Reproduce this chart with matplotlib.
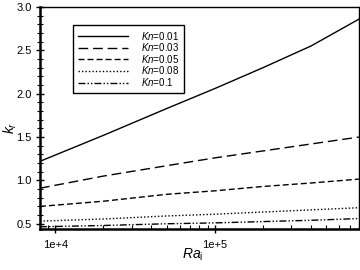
import math
import matplotlib
matplotlib.use("Agg")
import matplotlib.pyplot as plt
from matplotlib.ticker import FixedLocator, MultipleLocator, LogLocator, FuncFormatter, NullFormatter

plt.rcParams['font.family'] = ['Liberation Sans', 'DejaVu Sans']
plt.rcParams['mathtext.fontset'] = 'custom'
plt.rcParams['mathtext.rm'] = 'Liberation Sans'
plt.rcParams['mathtext.it'] = 'Liberation Sans:italic'

# Ra_i values and k_r curves for each Kn
ra = [8e3, 2e4, 5e4, 1e5, 2e5, 4e5, 8e5]
kn_labels = ['0.01', '0.03', '0.05', '0.08', '0.1']
kr_001 = [1.22, 1.52, 1.83, 2.06, 2.30, 2.55, 2.86]
kr_003 = [0.91, 1.05, 1.17, 1.26, 1.34, 1.42, 1.50]
kr_005 = [0.70, 0.76, 0.84, 0.88, 0.93, 0.97, 1.015]
kr_008 = [0.53, 0.555, 0.59, 0.61, 0.635, 0.66, 0.685]
kr_010 = [0.465, 0.48, 0.50, 0.51, 0.525, 0.54, 0.56]

fig = plt.figure(figsize=(3.6, 2.7), dpi=100)
ax = fig.add_axes([0.111, 0.152, 0.886, 0.822])

styles = [dict(linestyle='-'),
          dict(dashes=(7, 3.5)),
          dict(dashes=(4.3, 2.2)),
          dict(dashes=(1, 1.5)),
          dict(dashes=(5, 1.5, 1, 1.5, 1, 1.5))]
for vals, lab, st in zip([kr_001, kr_003, kr_005, kr_008, kr_010], kn_labels, styles):
    ax.plot(ra, vals, color='black', lw=1.0, label='$Kn$=' + lab, **st)

ax.set_xscale('log')
ax.set_xlim(8e3, 8e5)
ax.set_ylim(0.44, 3.0)
ax.xaxis.set_major_locator(FixedLocator([1e4, 1e5]))
ax.xaxis.set_major_formatter(FuncFormatter(lambda v, p: '1e+%d' % round(math.log10(v))))
ax.xaxis.set_minor_locator(LogLocator(base=10, subs=range(2, 10)))
ax.xaxis.set_minor_formatter(NullFormatter())
ax.yaxis.set_major_locator(MultipleLocator(0.5))
ax.yaxis.set_minor_locator(MultipleLocator(0.1))
ax.yaxis.set_major_formatter(FuncFormatter(lambda v, p: '%.1f' % v))

ax.tick_params(axis='y', which='major', direction='inout', length=6, width=1, labelsize=8, pad=3)
ax.tick_params(axis='y', which='minor', direction='inout', length=4, width=0.8)
ax.tick_params(axis='x', which='major', direction='inout', length=6, width=1, labelsize=8, pad=5)
ax.tick_params(axis='x', which='minor', direction='in', length=3, width=0.8)

ax.spines['left'].set_linewidth(1.8)
ax.spines['bottom'].set_linewidth(1.8)
ax.spines['top'].set_linewidth(1.0)
ax.spines['right'].set_linewidth(1.0)

# axis titles placed in figure pixels (y label at x~10, x label at y~255)
fig.text(10 / 360, 1 - 128 / 270, r'$k_r$', fontsize=10, rotation=90, ha='center', va='center')
fig.text(193 / 360, 1 - 255 / 270, r'$Ra_\mathrm{i}$', fontsize=10, ha='center', va='center')

leg = ax.legend(loc='upper left', bbox_to_anchor=(0.103, 0.919), fontsize=7,
                handlelength=5.2, handletextpad=1.3, labelspacing=-0.05,
                fancybox=False, framealpha=1, edgecolor='black',
                borderpad=0.5, borderaxespad=0)
leg.get_frame().set_linewidth(1.0)

fig.savefig('out.png', dpi=100)
